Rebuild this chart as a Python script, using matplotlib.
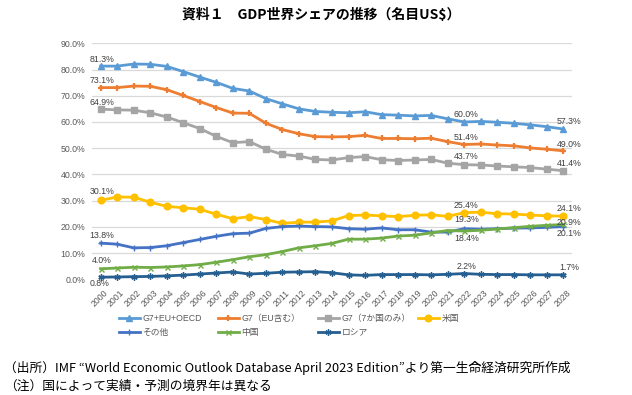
import matplotlib
matplotlib.use('Agg')
import matplotlib.pyplot as plt
import matplotlib.transforms as mtransforms

# ---------------- data ----------------
years = [str(y) for y in range(2000, 2029)]
g7_eu_oecd = [81.3, 81.3, 82.1, 82.0, 81.2, 79.2, 77.1, 75.1, 72.8, 71.8, 68.9, 66.9, 65.0, 64.0, 63.7,
              63.5, 63.9, 62.8, 62.6, 62.3, 62.5, 61.2, 60.0, 60.2, 59.9, 59.5, 58.9, 58.2, 57.3]
g7_eu = [73.1, 73.1, 73.7, 73.6, 72.3, 70.1, 67.8, 65.5, 63.4, 63.3, 59.5, 57.1, 55.5, 54.4, 54.3,
         54.4, 54.9, 53.7, 53.7, 53.6, 53.8, 52.5, 51.4, 51.6, 51.2, 50.9, 50.1, 49.6, 49.0]
g7_only = [64.9, 64.6, 64.5, 63.5, 61.9, 59.7, 57.5, 54.5, 52.1, 52.5, 49.6, 47.6, 47.0, 45.7, 45.5,
           46.4, 46.8, 45.6, 45.3, 45.5, 45.7, 44.3, 43.7, 43.6, 43.2, 42.9, 42.6, 42.0, 41.4]
usa = [30.1, 31.4, 31.3, 29.4, 27.8, 27.3, 26.7, 24.8, 23.1, 23.9, 22.8, 21.3, 21.8, 21.8, 22.3,
       24.3, 24.5, 24.2, 23.9, 24.4, 24.6, 24.0, 25.4, 25.6, 25.0, 24.9, 24.5, 24.2, 24.1]
others = [13.8, 13.4, 12.0, 12.1, 12.8, 14.0, 15.2, 16.4, 17.4, 17.6, 19.4, 20.1, 20.3, 20.1, 20.0,
          19.3, 19.1, 19.6, 18.9, 18.9, 18.0, 18.0, 19.3, 19.1, 19.3, 19.5, 19.6, 19.8, 20.1]
china = [4.0, 4.3, 4.6, 4.5, 4.7, 5.1, 5.6, 6.5, 7.5, 8.6, 9.4, 10.6, 12.0, 12.8, 13.7,
         15.3, 15.3, 15.7, 16.5, 16.8, 17.7, 18.6, 18.4, 18.7, 19.2, 19.7, 20.2, 20.6, 20.9]
russia = [0.8, 0.9, 1.0, 1.1, 1.3, 1.6, 2.0, 2.4, 2.8, 2.0, 2.3, 2.7, 2.8, 2.9, 2.5,
          1.7, 1.5, 1.8, 1.8, 1.8, 1.7, 1.9, 2.2, 1.9, 1.8, 1.8, 1.7, 1.7, 1.7]

series_names = ['G7+EU+OECD', 'G7（EU含む）', 'G7（7か国のみ）', '米国', 'その他', '中国', 'ロシア']
yticks = [0, 10, 20, 30, 40, 50, 60, 70, 80, 90]

title = '資料１　GDP世界シェアの推移（名目US$）'
note1 = '（出所）IMF “World Economic Outlook Database April 2023 Edition”より第一生命経済研究所作成'
note2 = '（注）国によって実績・予測の境界年は異なる'

# ---------------- style ----------------
W, H = 632, 395
NUMFONT = ['Liberation Sans', 'Noto Sans CJK JP', 'DejaVu Sans']
CJKFONT = ['Noto Sans CJK JP', 'DejaVu Sans']
plt.rcParams['font.family'] = NUMFONT

fig = plt.figure(figsize=(W / 100, H / 100), dpi=100)
fig.patch.set_facecolor('white')

x0, x1 = 92.4, 571.6
ytop, ybot = 43.3, 279.3
ax = fig.add_axes([x0 / W, 1 - ybot / H, (x1 - x0) / W, (ybot - ytop) / H])

styles = [
    dict(color='#5B9BD5', marker='^', ms=4.2),
    dict(color='#ED7D31', marker='+', ms=4.5, mew=1.6),
    dict(color='#A5A5A5', marker='s', ms=4.2),
    dict(color='#FFC000', marker='o', ms=4.8),
    dict(color='#4472C4', marker='+', ms=4.5, mew=1.0),
    dict(color='#70AD47', marker='x', ms=3.6, mew=1.0),
    dict(color='#255E91', marker=(6, 2, 0), ms=4.5, mew=1.0),
]
data = [g7_eu_oecd, g7_eu, g7_only, usa, others, china, russia]
xs = list(range(len(years)))

handles = []
for vals, st, name in zip(data, styles, series_names):
    ln, = ax.plot(xs, vals, lw=2.0, label=name, clip_on=False, **st)
    handles.append(ln)

ax.set_xlim(-0.5, len(years) - 0.5)
ax.set_ylim(0, 90)
ax.set_yticks(yticks)
ax.set_yticklabels([f'{v:.1f}%' for v in yticks])
ax.set_xticks(xs)
ax.set_xticklabels(years, rotation=45, ha='right', va='center', rotation_mode='anchor')
ax.tick_params(axis='both', length=0, labelsize=6.3, labelcolor='#595959')
ax.tick_params(axis='y', pad=5)
ax.tick_params(axis='x', pad=9)
for lbl in ax.get_xticklabels():
    lbl.set_transform(lbl.get_transform() + mtransforms.Affine2D().translate(6, 0))
ax.grid(axis='y', color='#D9D9D9', lw=0.9)
ax.set_axisbelow(True)
for s in ax.spines.values():
    s.set_visible(False)

# ---------------- data labels ----------------
labels = [
    (0, 0, 1, 7), (1, 0, 1, 7), (2, 0, 1, 7), (3, 0, 1, 9), (4, 0, 1, 8), (5, 0, 1, 8), (6, 0, -1, -6),
    (0, 22, 2, 7), (1, 22, 2, 7), (2, 22, 2, 8), (3, 22, 2, 7), (4, 22, 2, 9), (5, 22, 2, -7), (6, 22, 2, 7),
    (0, 28, 6, 8), (1, 28, 6, 6), (2, 28, 6, 7), (3, 28, 6, 8), (5, 28, 6, 1.5), (4, 28, 6, -7), (6, 28, 6, 7),
]
for si, idx, dx, dy in labels:
    v = data[si][idx]
    ax.annotate(f'{v:.1f}%', (idx, v), xytext=(dx, dy), textcoords='offset pixels',
                ha='center', va='center', fontsize=6.3, color='#404040', annotation_clip=False)

# ---------------- title ----------------
fig.text(321 / W, 1 - 15 / H, title, ha='center', va='center', fontsize=10,
         fontweight='bold', family=CJKFONT, color='#000000')

# ---------------- legend (4 columns) ----------------
col_x = [118.5, 217.5, 317.5, 417.5]
cols = [[0, 4], [1, 5], [2, 6], [3]]
for cx, idxs in zip(col_x, cols):
    leg = fig.legend([handles[i] for i in idxs], [series_names[i] for i in idxs],
                     loc='upper left', bbox_to_anchor=(cx / W, 1 - 314 / H),
                     frameon=False, borderpad=0, borderaxespad=0, handlelength=2.5,
                     handletextpad=0.25, labelspacing=0.55,
                     prop={'family': NUMFONT, 'size': 6.3})
    for t in leg.get_texts():
        t.set_color('#595959')

# ---------------- notes ----------------
fig.text(4 / W, 1 - 368 / H, note1, ha='left', va='center', fontsize=9.2, family=CJKFONT, color='#000000')
fig.text(4 / W, 1 - 386 / H, note2, ha='left', va='center', fontsize=9.2, family=CJKFONT, color='#000000')

fig.savefig('out.png', dpi=100, facecolor='white')
